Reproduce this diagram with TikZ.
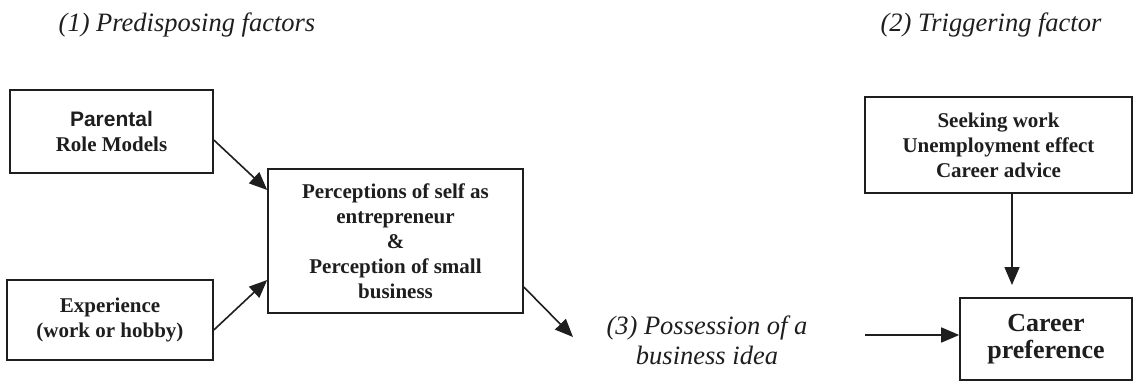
\documentclass[tikz,border=0pt]{standalone}
\usepackage{fontspec}
\setmainfont{Liberation Serif}
\newfontfamily\arialfont{Liberation Sans}
\usetikzlibrary{arrows.meta,calc}
\definecolor{ink}{HTML}{1E1E1E}
\tikzset{
  box/.style={draw=ink, line width=1.6pt, rectangle, inner sep=0pt, align=center,
    text=ink, font=\fontsize{21}{25}\selectfont\bfseries},
  bigbox/.style={box, font=\fontsize{26}{27.5}\selectfont\bfseries},
  heading/.style={text=ink, align=center, font=\fontsize{26.5}{30}\selectfont\itshape},
  arr/.style={draw=ink, line width=1.6pt, -{Triangle[length=18pt,width=15pt]}}
}
\begin{document}
\begin{tikzpicture}[x=1pt,y=-1pt]
\useasboundingbox (0,0) rectangle (1135,382);

% section headings
\node[heading] (h1) at (187,25) {(1) Predisposing factors};
\node[heading] (h2) at (991,25) {(2) Triggering factor};

% predisposing factors
\node[box, minimum width=203pt, minimum height=83pt] (par) at (111.5,131.5)
  {{\arialfont Parental}\\Role Models};
\node[box, minimum width=206pt, minimum height=80pt] (exp) at (110,320)
  {Experience\\(work or hobby)};
\node[box, minimum width=255pt, minimum height=144pt] (perc) at (395.5,241)
  {Perceptions of self as\\entrepreneur\\\&\\Perception of small\\business};

% business idea
\node[heading] (idea) at (707,340) {(3) Possession of a\\business idea};
\coordinate (ideaIn) at (573,337);
\coordinate (ideaOut) at (865,335);

% triggering factor and outcome
\node[box, minimum width=267pt, minimum height=96pt] (seek) at (998.5,145)
  {Seeking work\\Unemployment effect\\Career advice};
\node[bigbox, minimum width=172pt, minimum height=82pt] (car) at (1046,339)
  {Career\\preference};
\coordinate (carTop) at (1012,285);

% connectors
\draw[arr] ($(par.east)+(0,8.5)$) -- ($(perc.west)+(0,-51)$);
\draw[arr] ($(exp.east)+(0,10)$) -- ($(perc.west)+(0,39)$);
\draw[arr] ($(perc.east)+(0,46)$) -- (ideaIn);
\draw[arr] (ideaOut) -- (car.west |- ideaOut);
\draw[arr] (seek.south -| carTop) -- (carTop);
\end{tikzpicture}
\end{document}
